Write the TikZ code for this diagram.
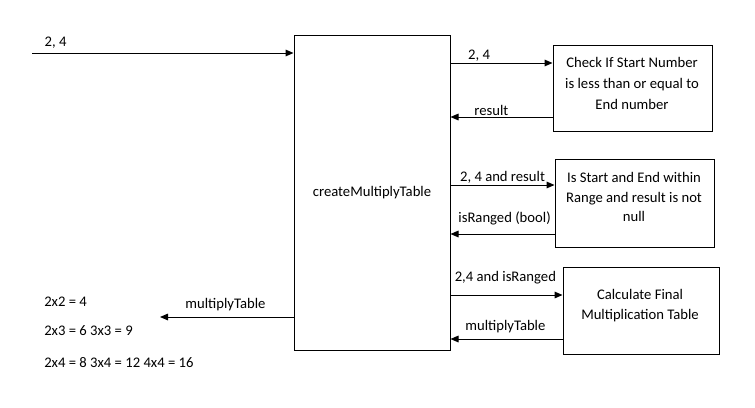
\documentclass[tikz,border=0pt]{standalone}
\usepackage{fontspec}
\setmainfont{Carlito}
\usetikzlibrary{arrows.meta}
\begin{document}
\begin{tikzpicture}[x=0.75pt,y=-0.75pt,
  font=\fontsize{11pt}{15pt}\selectfont,
  box/.style={draw,line width=0.75pt,inner sep=0pt},
  txt/.style={inner sep=0pt,align=center},
  arr/.style={line width=0.75pt,-{Triangle[length=6pt,width=5pt]}},
  lbl/.style={inner sep=1pt,above}]
\useasboundingbox (0,0) rectangle (755,407);
\node[box,minimum width=156*0.75pt,minimum height=315*0.75pt] (main) at (372,192.5) {};
\node[txt] (maint) at (main.center) {createMultiplyTable};
\node[box,minimum width=159*0.75pt,minimum height=86*0.75pt] (b1) at (632.5,88) {};
\node[txt,font=\fontsize{11pt}{15.5pt}\selectfont] (b1t) at (632,83.5) {Check If Start Number\\is less than or equal to\\End number};
\node[box,minimum width=159*0.75pt,minimum height=88*0.75pt] (b2) at (634.5,203) {};
\node[txt,font=\fontsize{11pt}{14.5pt}\selectfont] (b2t) at (634,197) {Is Start and End within\\Range and result is not\\null};
\node[box,minimum width=156*0.75pt,minimum height=87*0.75pt] (b3) at (641,310.5) {};
\node[txt] (b3t) at (640,306) {Calculate Final\\Multiplication Table};
\coordinate (in) at (32,53);
\coordinate (out) at (160,317);
\draw[arr] (in) -- node[lbl,pos=0.09,yshift=2pt] {2, 4} (main.west |- in);
\draw[arr] (main.east |- 0,63) -- node[lbl,pos=0.28] {2, 4} (b1.west |- 0,63);
\draw[arr] (b1.west |- 0,117) -- node[lbl,pos=0.6] {result} (main.east |- 0,117);
\draw[arr] (main.east |- 0,185) -- node[lbl,pos=0.5] {2, 4 and result} (b2.west |- 0,185);
\draw[arr] (b2.west |- 0,234) -- node[lbl,pos=0.48,yshift=5pt] {isRanged (bool)} (main.east |- 0,234);
\draw[arr] (main.east |- 0,295) -- node[lbl,pos=0.49,yshift=7pt] {2,4 and isRanged} (b3.west |- 0,295);
\draw[arr] (b3.west |- 0,339) -- node[lbl,pos=0.51,yshift=3pt] {multiplyTable} (main.east |- 0,339);
\draw[arr] (main.west |- out) -- node[lbl,pos=0.51,yshift=3pt] {multiplyTable} (out);
\node[anchor=west,inner sep=0pt] (t1) at (44,302) {2x2 = 4};
\node[anchor=west,inner sep=0pt] (t2) at (44,331) {2x3 = 6 3x3 = 9};
\node[anchor=west,inner sep=0pt] (t3) at (44,363) {2x4 = 8 3x4 = 12 4x4 = 16};
\end{tikzpicture}
\end{document}
